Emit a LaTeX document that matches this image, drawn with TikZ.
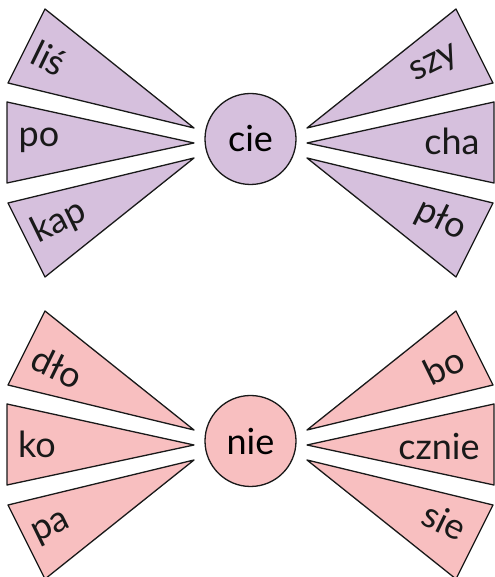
\documentclass[tikz,border=0pt]{standalone}
\usepackage{fontspec}
\setmainfont{Lato}
\usepackage{tikz}
\definecolor{lila}{HTML}{D6C0DD}
\definecolor{rosa}{HTML}{F8BFC0}
\tikzset{basic/.style={draw=black!90,line width=0.65pt,line join=round}}
\tikzset{hub/.style={basic,circle,minimum size=45.5pt,inner sep=0pt,
                     font=\fontsize{18}{20}\selectfont}}
% six wedges round one fan centre
\newcommand\wedges[1]{%
    \foreach \s in {1,-1}{%
      \foreach \ap/\ux/\uy/\lx/\ly in {15/-205.5/134/-242.5/60,
                                        0/-243.5/41/-243.5/-40,
                                        -15/-242.5/-60/-205.5/-134}{%
        \draw[basic,fill=#1] (\s*-56.5,\ap) -- (\s*\ux,\uy)
                             -- (\s*\lx,\ly) -- cycle;
      }
    }%
}

\begin{document}
\begin{tikzpicture}[x=0.5pt,y=0.5pt]
    \tikzstyle{syl}=[font=\fontsize{18}{20}\selectfont,text=black!90,inner sep=0pt]
    \useasboundingbox (0,0) rectangle (494,577);

    % upper fan
    \begin{scope}[shift={(250.5,434)}]
      \wedges{lila}
      \node[hub,fill=lila] (cie) at (0,4) {cie};
      \node[syl,rotate=-26] (lis) at (-201.5,85) {liś};
      \node[syl] (po) at (-211.5,3) {po};
      \node[syl,rotate=26] (kap) at (-191.5,-79) {kap};
      \node[syl,rotate=26] (szy) at (184.5,78) {szy};
      \node[syl] (cha) at (201.5,2) {cha};
      \node[syl,rotate=-26] (plo) at (190.5,-77) {pło};
    \end{scope}

    % lower fan
    \begin{scope}[shift={(250.5,132)}]
      \wedges{rosa}
      \node[hub,fill=rosa] (nie) at (0,4) {nie};
      \node[syl,rotate=-26] (dlo) at (-193.5,78) {dło};
      \node[syl] (ko) at (-213.5,1) {ko};
      \node[syl,rotate=26] (pa) at (-198.5,-84) {pa};
      \node[syl,rotate=26] (bo) at (193.5,79) {bo};
      \node[syl] (cznie) at (188.5,-1) {cznie};
      \node[syl,rotate=-26] (sie) at (194.5,-76) {sie};
    \end{scope}
\end{tikzpicture}
\end{document}
